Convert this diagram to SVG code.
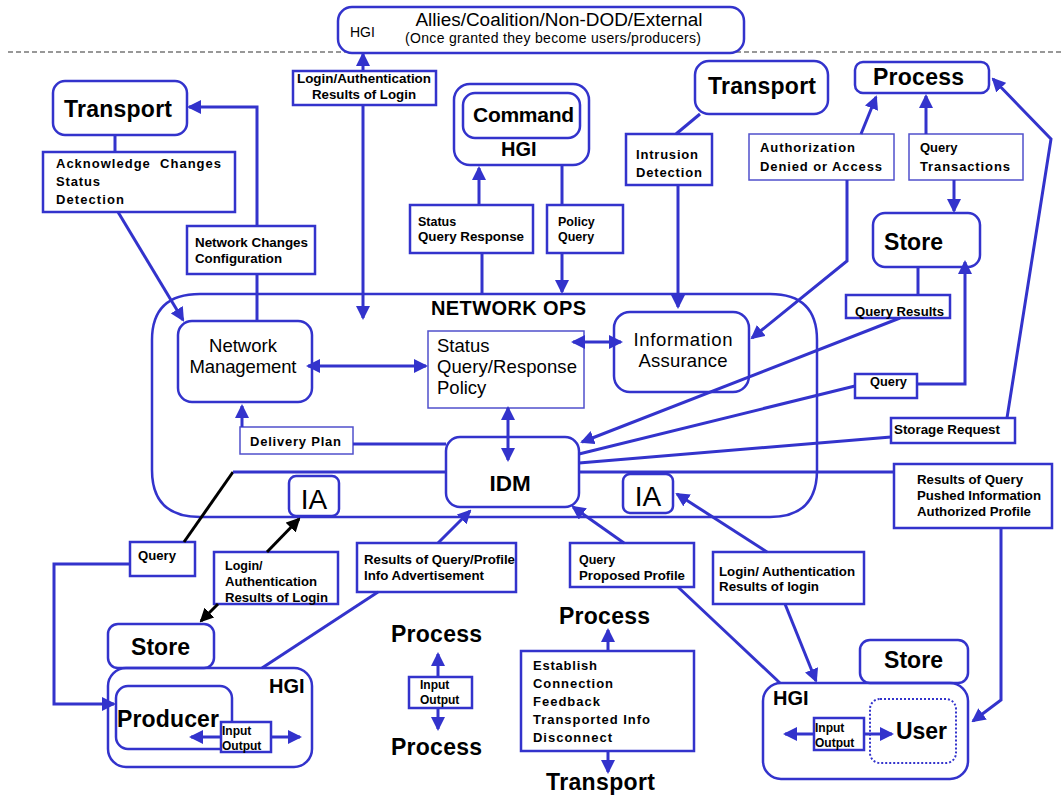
<svg xmlns="http://www.w3.org/2000/svg" width="1062" height="796" viewBox="0 0 1062 796">
<style>
.ln{stroke:#3333cc;stroke-width:3;fill:none}
.lk{stroke:#000;stroke-width:3;fill:none}
.bx{fill:#fff;stroke:#3333cc;stroke-width:2.5}
.th{fill:#fff;stroke:#5050cc;stroke-width:1.5}
.ct{fill:none;stroke:#3333cc;stroke-width:2.5}
text{font-family:"Liberation Sans",Arial,Helvetica,sans-serif;fill:#000}
.s{font-size:12.5px;font-weight:bold}
.m{font-size:13px;font-weight:bold}
.big{font-size:23px;font-weight:bold}
.r{font-size:18.5px}
</style>
<defs>
<marker id="ah" viewBox="0 0 14 14" refX="12" refY="7" markerWidth="14" markerHeight="14" markerUnits="userSpaceOnUse" orient="auto-start-reverse"><path d="M0,0 L14,7 L0,14 z" fill="#3333cc"/></marker>
<marker id="ak" viewBox="0 0 14 14" refX="12" refY="7" markerWidth="14" markerHeight="14" markerUnits="userSpaceOnUse" orient="auto-start-reverse"><path d="M0,0 L14,7 L0,14 z" fill="#000"/></marker>
</defs>
<rect width="1062" height="796" fill="#fff"/>
<line x1="8" y1="52" x2="1062" y2="52" stroke="#777" stroke-width="1.5" stroke-dasharray="5,3"/>

<g id="nodes">
<g id="allies"><rect class="bx" x="338" y="7" width="406" height="46" rx="14"/>
<text x="350" y="37" font-size="14">HGI</text>
<text x="559" y="26" text-anchor="middle" font-size="18" textLength="287" lengthAdjust="spacingAndGlyphs">Allies/Coalition/Non-DOD/External</text>
<text x="553" y="43" text-anchor="middle" font-size="14" textLength="296">(Once granted they become users/producers)</text></g>

<g id="login-top"><rect class="bx" x="293" y="71" width="143" height="34"/>
<text class="m" x="364" y="83" text-anchor="middle" textLength="134" lengthAdjust="spacingAndGlyphs">Login/Authentication</text>
<text class="m" x="364" y="99" text-anchor="middle" textLength="104" lengthAdjust="spacingAndGlyphs">Results of Login</text></g>

<g id="transport-left"><rect class="bx" x="53" y="81" width="134" height="54" rx="12"/>
<text class="big" x="64" y="117" textLength="108">Transport</text></g>

<g id="ack"><rect class="bx" x="43" y="152" width="192" height="60"/>
<text class="m" x="56" y="168" xml:space="preserve" textLength="165">Acknowledge  Changes</text>
<text class="m" x="56" y="186" textLength="44">Status</text>
<text class="m" x="56" y="204" textLength="68">Detection</text></g>

<g id="net-changes"><rect class="bx" x="187" y="226" width="128" height="48"/>
<text class="s" x="195" y="247" textLength="113" lengthAdjust="spacingAndGlyphs">Network Changes</text>
<text class="s" x="195" y="263" textLength="87" lengthAdjust="spacingAndGlyphs">Configuration</text></g>

<g id="command"><rect class="bx" x="454" y="84" width="135" height="81" rx="16"/>
<rect class="bx" x="463" y="93" width="117" height="45" rx="12"/>
<text x="473" y="122" font-size="21" font-weight="bold" textLength="101">Command</text>
<text x="501" y="156" font-size="20" font-weight="bold">HGI</text></g>

<g id="status-qr"><rect class="bx" x="410" y="205" width="123" height="48"/>
<text class="s" x="418" y="226">Status</text>
<text class="s" x="418" y="241" textLength="106" lengthAdjust="spacingAndGlyphs">Query Response</text></g>

<g id="policy-query"><rect class="bx" x="547" y="205" width="76" height="48"/>
<text class="s" x="558" y="226">Policy</text>
<text class="s" x="558" y="241">Query</text></g>

<g id="transport-right"><rect class="bx" x="695" y="61" width="133" height="53" rx="14"/>
<text class="big" x="708" y="94" textLength="108">Transport</text></g>

<g id="intrusion"><rect class="bx" x="626" y="134" width="86" height="51"/>
<text class="m" x="636" y="159" textLength="62">Intrusion</text>
<text class="m" x="636" y="177" textLength="66">Detection</text></g>

<g id="process-top"><rect class="bx" x="855" y="62" width="134" height="31" rx="8"/>
<text class="big" x="873" y="85" textLength="91">Process</text></g>

<g id="authorization"><rect class="th" x="749" y="134" width="145" height="46"/>
<text class="m" x="760" y="152" textLength="95">Authorization</text>
<text class="m" x="760" y="171" textLength="122">Denied or Access</text></g>

<g id="query-transactions"><rect class="th" x="909" y="134" width="114" height="46"/>
<text class="m" x="920" y="152">Query</text>
<text class="m" x="920" y="171" textLength="90">Transactions</text></g>

<g id="store-right"><rect class="bx" x="873" y="213" width="107" height="54" rx="12"/>
<text class="big" x="884" y="250" textLength="59">Store</text></g>

<g id="query-results"><rect class="bx" x="846" y="295" width="104" height="23"/>
<text class="s" x="855" y="316" textLength="89" lengthAdjust="spacingAndGlyphs">Query Results</text></g>

<g id="query-right"><rect class="bx" x="855" y="374" width="62" height="24"/>
<text class="s" x="870" y="386" textLength="37" lengthAdjust="spacingAndGlyphs">Query</text></g>

<g id="storage-request"><rect class="bx" x="891" y="418" width="124" height="25"/>
<text class="s" x="894" y="434" textLength="106" lengthAdjust="spacingAndGlyphs">Storage Request</text></g>

<g id="results-of-query"><rect class="bx" x="894" y="464" width="158" height="64"/>
<text class="s" x="917" y="484" textLength="106" lengthAdjust="spacingAndGlyphs">Results of Query</text>
<text class="s" x="917" y="500" textLength="124" lengthAdjust="spacingAndGlyphs">Pushed Information</text>
<text class="s" x="917" y="516" textLength="114" lengthAdjust="spacingAndGlyphs">Authorized Profile</text></g>

<g id="network-ops"><path class="ct" d="M200,294 H770 Q817,294 817,340 V470 Q817,517 770,517 H200 Q152,517 152,470 V340 Q152,294 200,294 Z"/>
<text x="431" y="315" font-size="20" font-weight="bold" textLength="155">NETWORK OPS</text></g>

<g id="network-management"><rect class="bx" x="178" y="321" width="134" height="81" rx="14"/>
<text class="r" x="243" y="352" text-anchor="middle">Network</text>
<text class="r" x="243" y="373" text-anchor="middle" textLength="107">Management</text></g>

<g id="status-box"><rect class="th" x="428" y="331" width="156" height="77"/>
<text class="r" x="437" y="352">Status</text>
<text class="r" x="437" y="373" textLength="140">Query/Response</text>
<text class="r" x="437" y="394">Policy</text></g>

<g id="information-assurance"><rect class="ct" x="614" y="312" width="135" height="80" rx="16"/>
<text class="r" x="683" y="346" text-anchor="middle" textLength="99">Information</text>
<text class="r" x="683" y="367" text-anchor="middle" textLength="89">Assurance</text></g>

<g id="delivery-plan"><rect class="th" x="240" y="427" width="113" height="27"/>
<text class="m" x="250" y="446" textLength="91">Delivery Plan</text></g>

<g id="idm"><rect class="bx" x="446" y="437" width="133" height="70" rx="14"/>
<text x="510" y="491" text-anchor="middle" font-size="22.5" font-weight="bold">IDM</text></g>

<g id="ia-left"><rect class="bx" x="289" y="476" width="50" height="40" rx="7"/>
<text x="314" y="509" text-anchor="middle" font-size="28">IA</text></g>
<g id="ia-right"><rect class="bx" x="623" y="474" width="50" height="39" rx="7"/>
<text x="648" y="506" text-anchor="middle" font-size="28">IA</text></g>

<g id="query-left"><rect class="bx" x="130" y="542" width="65" height="34"/>
<text class="s" x="138" y="560" textLength="38" lengthAdjust="spacingAndGlyphs">Query</text></g>

<g id="login-left"><rect class="bx" x="214" y="552" width="124" height="52"/>
<text class="s" x="225" y="570">Login/</text>
<text class="s" x="225" y="586" textLength="92" lengthAdjust="spacingAndGlyphs">Authentication</text>
<text class="s" x="225" y="602" textLength="103" lengthAdjust="spacingAndGlyphs">Results of Login</text></g>

<g id="results-profile"><rect class="bx" x="357" y="543" width="159" height="49"/>
<text class="s" x="364" y="564" textLength="151" lengthAdjust="spacingAndGlyphs">Results of Query/Profile</text>
<text class="s" x="364" y="580" textLength="120" lengthAdjust="spacingAndGlyphs">Info Advertisement</text></g>

<g id="query-proposed"><rect class="bx" x="570" y="543" width="124" height="44"/>
<text class="s" x="579" y="564">Query</text>
<text class="s" x="579" y="580" textLength="106" lengthAdjust="spacingAndGlyphs">Proposed Profile</text></g>

<g id="login-right"><rect class="bx" x="713" y="552" width="151" height="52"/>
<text class="s" x="719" y="576" textLength="136" lengthAdjust="spacingAndGlyphs">Login/ Authentication</text>
<text class="s" x="719" y="591" textLength="100" lengthAdjust="spacingAndGlyphs">Results of login</text></g>

<g id="store-left"><rect class="bx" x="108" y="624" width="106" height="44" rx="10"/>
<text class="big" x="131" y="655" textLength="59">Store</text></g>

<g id="hgi-producer"><rect class="ct" x="108" y="668" width="204" height="99" rx="18"/>
<text x="269" y="693" font-size="20" font-weight="bold">HGI</text>
<rect class="ct" x="116" y="686" width="116" height="63" rx="12"/>
<text class="big" x="117" y="727" textLength="102">Producer</text>
<rect class="bx" x="221" y="722" width="50" height="30" stroke-width="2"/>
<text x="222" y="735" font-size="12" font-weight="bold">Input</text>
<text x="222" y="750" font-size="12" font-weight="bold">Output</text></g>

<g id="process-pair">
<text class="big" x="391" y="642" textLength="91">Process</text>
<rect class="bx" x="409" y="677" width="63" height="31" stroke-width="2"/>
<text x="420" y="689" font-size="12" font-weight="bold">Input</text>
<text x="420" y="704" font-size="12" font-weight="bold">Output</text>
<text class="big" x="391" y="755" textLength="91">Process</text></g>

<g id="establish">
<text class="big" x="559" y="624" textLength="91">Process</text>
<rect class="bx" x="521" y="651" width="173" height="100"/>
<text class="m" x="533" y="670" textLength="64">Establish</text>
<text class="m" x="533" y="688" textLength="80">Connection</text>
<text class="m" x="533" y="706" textLength="67">Feedback</text>
<text class="m" x="533" y="724" textLength="117">Transported Info</text>
<text class="m" x="533" y="742" textLength="79">Disconnect</text>
<text class="big" x="546" y="790" textLength="109">Transport</text></g>

<g id="store-bottom-right"><rect class="bx" x="860" y="640" width="108" height="43" rx="10"/>
<text class="big" x="884" y="668" textLength="59">Store</text></g>

<g id="hgi-user"><rect class="ct" x="763" y="683" width="205" height="96" rx="18"/>
<text x="773" y="705" font-size="20" font-weight="bold">HGI</text>
<rect x="870" y="699" width="86" height="64" rx="10" fill="none" stroke="#3333cc" stroke-width="2" stroke-dasharray="2,2"/>
<text class="big" x="896" y="739" textLength="51">User</text>
<rect class="bx" x="814" y="718" width="50" height="32" stroke-width="2"/>
<text x="815" y="732" font-size="12" font-weight="bold">Input</text>
<text x="815" y="747" font-size="12" font-weight="bold">Output</text></g>
</g>

<g id="connectors">
<path class="ln" d="M363,71 V54" marker-end="url(#ah)"/>
<path class="ln" d="M363,105 V318" marker-end="url(#ah)"/>
<path class="ln" d="M257,226 V107 H189" marker-end="url(#ah)"/>
<path class="ln" d="M257,274 V321"/>
<path class="ln" d="M115,135 V152"/>
<path class="ln" d="M118,212 L183,320" marker-end="url(#ah)"/>
<path class="ln" d="M308,366 H426" marker-start="url(#ah)" marker-end="url(#ah)"/>
<path class="ln" d="M242,427 V406" marker-end="url(#ah)"/>
<path class="ln" d="M353,444 H446"/>
<path class="ln" d="M573,342 H621" marker-start="url(#ah)" marker-end="url(#ah)"/>
<path class="ln" d="M508,408 V460" marker-start="url(#ah)" marker-end="url(#ah)"/>
<path class="ln" d="M479,205 V168" marker-end="url(#ah)"/>
<path class="ln" d="M482,253 V294"/>
<path class="ln" d="M562,165 V205"/>
<path class="ln" d="M562,253 V292" marker-end="url(#ah)"/>
<path class="ln" d="M700,114 L676,134"/>
<path class="ln" d="M678,185 V307" marker-end="url(#ah)"/>
<path class="ln" d="M861,134 L876,97" marker-end="url(#ah)"/>
<path class="ln" d="M847,180 V261 L752,338" marker-end="url(#ah)"/>
<path class="ln" d="M926,134 V96" marker-end="url(#ah)"/>
<path class="ln" d="M954,180 V211" marker-end="url(#ah)"/>
<path class="ln" d="M918,267 V295"/>
<path class="ln" d="M900,318 L582,442" marker-end="url(#ah)"/>
<path class="ln" d="M917,384 H965 V262" marker-end="url(#ah)"/>
<path class="ln" d="M855,386 L579,454"/>
<path class="ln" d="M891,437 L579,463"/>
<path class="ln" d="M1007,418 L1051,139 L993,79" marker-end="url(#ah)"/>
<path class="ln" d="M579,472 H894"/>
<path class="ln" d="M1001,528 V700 L973,721" marker-end="url(#ah)"/>
<path class="lk" d="M184,542 L233,472"/>
<path class="ln" d="M233,472 H446"/>
<path class="ln" d="M130,564 H54 V704 H114" marker-end="url(#ah)"/>
<path class="lk" d="M267,552 L299,519" marker-end="url(#ak)"/>
<path class="lk" d="M218,604 L201,621" marker-end="url(#ak)"/>
<path class="ln" d="M438,543 L470,511" marker-end="url(#ah)"/>
<path class="ln" d="M378,592 L262,668"/>
<path class="ln" d="M624,543 L573,507" marker-end="url(#ah)"/>
<path class="ln" d="M678,587 L780,683"/>
<path class="ln" d="M767,552 L677,494" marker-end="url(#ah)"/>
<path class="ln" d="M785,604 L816,681" marker-end="url(#ah)"/>
<path class="ln" d="M438,677 V654" marker-end="url(#ah)"/>
<path class="ln" d="M438,708 V729" marker-end="url(#ah)"/>
<path class="ln" d="M608,651 V630" marker-end="url(#ah)"/>
<path class="ln" d="M608,751 V772" marker-end="url(#ah)"/>
<path class="ln" d="M221,737 H191" marker-end="url(#ah)"/>
<path class="ln" d="M271,737 H300" marker-end="url(#ah)"/>
<path class="ln" d="M814,734 H785" marker-end="url(#ah)"/>
<path class="ln" d="M864,734 H892" marker-end="url(#ah)"/>
</g>
</svg>
